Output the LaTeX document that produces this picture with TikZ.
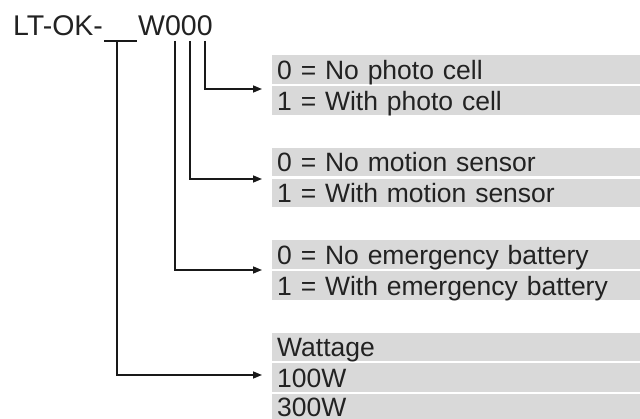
\documentclass[tikz,border=0pt]{standalone}
\usepackage{fontspec}
\setmainfont{Liberation Sans}
\usetikzlibrary{arrows.meta}
\definecolor{rowgray}{HTML}{D9D9D9}
\definecolor{ink}{HTML}{222222}
\begin{document}
\begin{tikzpicture}[x=1pt,y=-1pt,
  titletext/.style={inner sep=0pt, text=ink, font=\fontsize{28.5}{30}\selectfont, anchor=base west},
  optrow/.style={fill=rowgray, anchor=north west, minimum width=368pt, inner xsep=5pt, inner ysep=0pt,
    text height=24pt, text depth=4.5pt, text=ink, font=\fontsize{26.5}{28}\selectfont,
    text width=358pt, align=left},
  lastrow/.style={optrow, text height=23pt, text depth=2pt},
  conn/.style={line width=1.5pt, draw=black!90, -{Triangle[length=9pt,width=7pt]}},
  plainline/.style={line width=1.5pt, draw=black!90}]
\useasboundingbox (0,0) rectangle (640,419);
% title
\node[titletext] (pre) at (13,36) {LT-OK-};
\node[titletext] (suf) at (138,36) {W000};
\coordinate (ul) at (104,41);
\coordinate (ur) at (137,41);
\coordinate (u) at (117,41);
\coordinate (d1) at (175,41);
\coordinate (d2) at (190,41);
\coordinate (d3) at (205,41);
% option rows
\node[optrow] (p0) at (272,55) {0 = No photo cell};
\node[optrow] (p1) at (272,86) {1 = With photo cell};
\node[optrow] (m0) at (272,147.5) {0 = No motion sensor};
\node[optrow] (m1) at (272,178.5) {1 = With motion sensor};
\node[optrow] (b0) at (272,240) {0 = No emergency battery};
\node[optrow] (b1) at (272,271) {1 = With emergency battery};
\node[optrow] (w0) at (272,332.5) {Wattage};
\node[optrow] (w1) at (272,363) {100W};
\node[lastrow] (w2) at (272,393.5) {300W};
% arrow ends
\coordinate (a1) at (262,89);
\coordinate (a2) at (262,179);
\coordinate (a3) at (262,270);
\coordinate (a4) at (262,375);
% connectors
\draw[plainline] (ul) -- (ur);
\draw[conn] (d3) |- (a1);
\draw[conn] (d2) |- (a2);
\draw[conn] (d1) |- (a3);
\draw[conn] (u) |- (a4);
\end{tikzpicture}
\end{document}
